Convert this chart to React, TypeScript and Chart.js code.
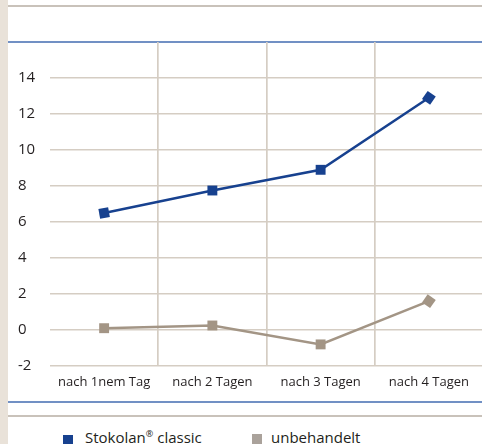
import React, { useEffect, useRef } from 'react';
import { Chart, registerables } from 'chart.js';

Chart.register(...registerables);

const categories = ['nach 1nem Tag', 'nach 2 Tagen', 'nach 3 Tagen', 'nach 4 Tagen'];
const stokolanValues = [6.5, 7.75, 8.9, 12.9];
const unbehandeltValues = [0.1, 0.25, -0.8, 1.6];
const yMin = -2;
const yMax = 16;
const yStep = 2;
const seriesNames = ['Stokolan® classic', 'unbehandelt'];

const BLUE = '#17418f';
const GRAY = '#a39585';
const GRID = '#d5cdc3';
const TEXT = '#231f20';
const FONT = '"Open Sans", "Noto Sans", sans-serif';

export default function App() {
  const canvasRef = useRef<HTMLCanvasElement | null>(null);

  useEffect(() => {
    document.body.style.margin = '0';
    const canvas = canvasRef.current;
    if (!canvas) return;
    const chart = new Chart(canvas, {
      type: 'line',
      data: {
        labels: categories,
        datasets: [
          {
            label: seriesNames[0],
            data: stokolanValues,
            borderColor: BLUE,
            backgroundColor: BLUE,
            borderWidth: 2.5,
            pointStyle: 'rect',
            pointRadius: 7,
            pointBorderWidth: 0,
            pointRotation: [-10, 0, 0, 35],
            tension: 0,
          },
          {
            label: seriesNames[1],
            data: unbehandeltValues,
            borderColor: GRAY,
            backgroundColor: GRAY,
            borderWidth: 2.5,
            pointStyle: 'rect',
            pointRadius: 7,
            pointBorderWidth: 0,
            pointRotation: [0, 0, 0, 35],
            tension: 0,
          },
        ],
      },
      options: {
        responsive: false,
        animation: false,
        devicePixelRatio: 1,
        layout: { padding: { left: 10, top: 42, right: 0, bottom: 0 } },
        plugins: {
          legend: { display: false },
          tooltip: { enabled: false },
        },
        scales: {
          x: {
            type: 'category',
            offset: true,
            border: { display: false },
            grid: {
              offset: true,
              drawTicks: false,
              lineWidth: 1.7,
              color: (c: any) => (c.index === undefined || c.index === 0 ? 'rgba(0,0,0,0)' : GRID),
            },
            ticks: {
              color: TEXT,
              font: { family: FONT, size: 13 },
              padding: 8,
              maxRotation: 0,
              autoSkip: false,
            },
            afterFit: (s: any) => {
              s.height = 34;
            },
          },
          y: {
            min: yMin,
            max: yMax,
            border: { display: false },
            grid: {
              drawTicks: false,
              lineWidth: 1.5,
              color: (c: any) => (c.tick && c.tick.value === yMax ? 'rgba(0,0,0,0)' : GRID),
            },
            ticks: {
              stepSize: yStep,
              color: TEXT,
              font: { family: FONT, size: 15 },
              crossAlign: 'far',
              padding: 0,
              callback: (v: any) => (Number(v) === yMax ? '' : String(v)),
            },
            afterFit: (s: any) => {
              s.width = 32;
            },
          },
        },
      },
    });
    return () => chart.destroy();
  }, []);

  const line = (top: number, color: string): React.CSSProperties => ({
    position: 'absolute',
    left: 8,
    right: 0,
    top,
    height: 2,
    background: color,
  });

  return (
    <div
      style={{
        position: 'relative',
        width: 482,
        height: 444,
        overflow: 'hidden',
        background: '#ffffff',
        fontFamily: FONT,
      }}
    >
      <div style={{ position: 'absolute', left: 0, top: 0, width: 8, height: 444, background: '#e9e2d9' }} />
      <div style={line(5, '#c9c2ba')} />
      <div style={line(41, '#7190c4')} />
      <div style={line(401, '#7190c4')} />
      <div style={line(415, '#c9c2ba')} />
      <canvas
        ref={canvasRef}
        width={482}
        height={400}
        style={{ position: 'absolute', left: 8, top: 0, width: 482, height: 400 }}
      />
      <div style={{ position: 'absolute', left: 63, top: 435, width: 10, height: 10, background: BLUE }} />
      <div
        style={{ position: 'absolute', left: 85, top: 427, fontSize: 15, color: TEXT, whiteSpace: 'nowrap', lineHeight: 'normal' }}
      >
        Stokolan<sup style={{ fontSize: 9, verticalAlign: 'super', lineHeight: 0 }}>®</sup> classic
      </div>
      <div style={{ position: 'absolute', left: 252, top: 434, width: 10, height: 10, background: '#aaa29b' }} />
      <div
        style={{ position: 'absolute', left: 271, top: 427, fontSize: 15, color: TEXT, whiteSpace: 'nowrap', lineHeight: 'normal' }}
      >
        unbehandelt
      </div>
    </div>
  );
}
